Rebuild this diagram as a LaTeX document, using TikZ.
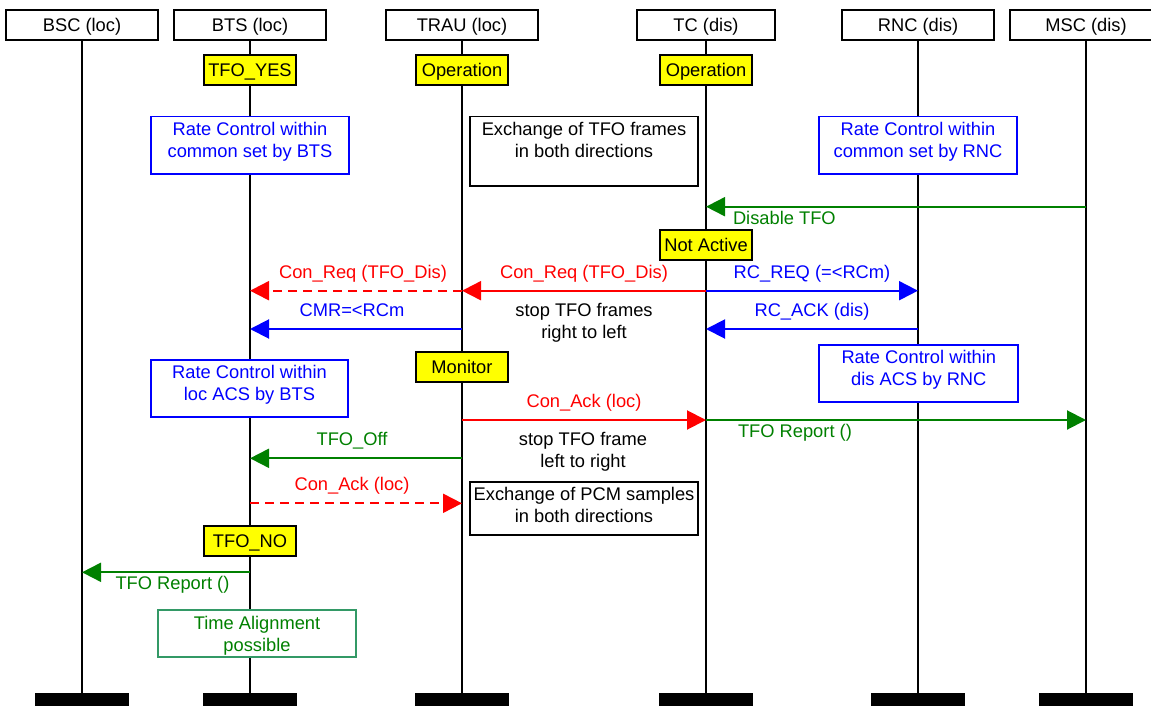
\documentclass[tikz,border=0pt]{standalone}
\usepackage{fontspec}
\setmainfont{Liberation Sans}
\usepackage{tikz}
\usetikzlibrary{arrows.meta}
\definecolor{tfored}{RGB}{255,0,0}
\definecolor{tfoblue}{RGB}{0,0,255}
\definecolor{tfogreen}{RGB}{0,128,0}
\definecolor{tfoteal}{RGB}{51,153,102}
\definecolor{tfoyellow}{RGB}{255,255,0}

\begin{document}
\begin{tikzpicture}[x=1pt, y=-1pt, font=\fontsize{18.3}{22}\selectfont,
    entity/.style={draw, line width=1.8pt, minimum width=152pt, minimum height=30pt, inner sep=0pt, text height=13pt, text depth=0pt},
    state/.style={draw, fill=tfoyellow, line width=1.8pt, minimum width=92pt, minimum height=30pt, inner sep=0pt, text height=13pt, text depth=0pt},
    stopbar/.style={fill=black, minimum width=94pt, minimum height=13.3pt, inner sep=0pt},
    note/.style={draw, fill=white, line width=1.8pt, anchor=north, align=center, inner xsep=0pt, inner ysep=4pt, text height=37pt},
    freetext/.style={align=center, inner sep=0pt},
    lifeline/.style={line width=2.2pt},
    msg/.style={line width=2pt, -{Triangle[length=19pt, width=19pt]}},
    dashmsg/.style={msg, dash pattern=on 9pt off 6pt},
    msglabel/.style={inner sep=0pt, text height=13pt, text depth=0pt},
    overlabel/.style={msglabel, midway, yshift=19pt}]
    \useasboundingbox (0,0) rectangle (1151,706);

    \node[entity] (bsc) at (82,25) {BSC (loc)};
    \node[entity] (bts) at (250,25) {BTS (loc)};
    \node[entity] (trau) at (462,25) {TRAU (loc)};
    \node[entity, minimum width=138pt] (tc) at (706,25) {TC (dis)};
    \node[entity] (rnc) at (918,25) {RNC (dis)};
    \node[entity] (msc) at (1086,25) {MSC (dis)};

    \node[stopbar] (bscend) at (82,699.35) {};
    \node[stopbar] (btsend) at (250,699.35) {};
    \node[stopbar] (trauend) at (462,699.35) {};
    \node[stopbar] (tcend) at (706,699.35) {};
    \node[stopbar] (rncend) at (918,699.35) {};
    \node[stopbar] (mscend) at (1086,699.35) {};

    \draw[lifeline] (bsc) -- (bscend);
    \draw[lifeline] (bts) -- (btsend);
    \draw[lifeline] (trau) -- (trauend);
    \draw[lifeline] (tc) -- (tcend);
    \draw[lifeline] (rnc) -- (rncend);
    \draw[lifeline] (msc) -- (mscend);

    \node[state] (btsyes) at (250,70) {TFO\_YES};
    \node[state] (trauop) at (462,70) {Operation};
    \node[state] (tcop) at (706,70) {Operation};
    \node[state] (tcidle) at (706,245) {Not Active};
    \node[state] (traumon) at (462,366.7) {Monitor};
    \node[state] (btsno) at (250,541) {TFO\_NO};

    \node[note, draw=tfoblue, text=tfoblue, minimum width=198pt, text depth=12.6pt] (btsrate) at (250,115.7) {Rate Control within\\common set by BTS};
    \node[note, minimum width=228.6pt, text depth=24.3pt] (tfoxchg) at (584,115.7) {Exchange of TFO frames\\in both directions};
    \node[note, draw=tfoblue, text=tfoblue, minimum width=198pt, text depth=12.6pt] (rncrate) at (918,115.7) {Rate Control within\\common set by RNC};
    \node[note, draw=tfoblue, text=tfoblue, minimum width=197pt, text depth=12pt] (btsacs) at (249.5,359) {Rate Control within\\loc ACS by BTS};
    \node[note, draw=tfoblue, text=tfoblue, minimum width=199pt, text depth=11.7pt] (rncacs) at (918.8,344) {Rate Control within\\dis ACS by RNC};
    \node[note, minimum width=228pt, text depth=8.3pt] (pcmxchg) at (584,480.7) {Exchange of PCM samples\\in both directions};
    \node[note, draw=tfoteal, text=tfogreen, minimum width=198pt, text depth=1.7pt] (talign) at (257,609.3) {Time Alignment\\possible};

    \node[freetext] (stoprl) at (584,322.8) {stop TFO frames\\right to left};
    \node[freetext] (stoplr) at (583,451.8) {stop TFO frame\\left to right};

    \draw[msg, tfogreen] (msc |- 0,206.7) -- (tc |- 0,206.7)
        node[msglabel, pos=1, anchor=west, xshift=26pt, yshift=-11.6pt] {Disable TFO};
    \draw[msg, tfored] (tc |- 0,290.7) -- (trau |- 0,290.7) node[overlabel] {Con\_Req (TFO\_Dis)};
    \draw[dashmsg, tfored] (trau |- 0,290.7) -- (bts |- 0,290.7) node[overlabel, xshift=7pt] {Con\_Req (TFO\_Dis)};
    \draw[msg, tfoblue] (tc |- 0,290.7) -- (rnc |- 0,290.7) node[overlabel] {RC\_REQ (=<RCm)};
    \draw[msg, tfoblue] (trau |- 0,329) -- (bts |- 0,329) node[overlabel, xshift=-4pt] {CMR=<RCm};
    \draw[msg, tfoblue] (rnc |- 0,329) -- (tc |- 0,329) node[overlabel] {RC\_ACK (dis)};
    \draw[msg, tfored] (trau |- 0,420) -- (tc |- 0,420) node[overlabel] {Con\_Ack (loc)};
    \draw[msg, tfogreen] (tc |- 0,420) -- (msc |- 0,420)
        node[msglabel, pos=0, anchor=west, xshift=31pt, yshift=-10.7pt] {TFO Report ()};
    \draw[msg, tfogreen] (trau |- 0,458.3) -- (bts |- 0,458.3) node[overlabel, xshift=-4pt] {TFO\_Off};
    \draw[dashmsg, tfored] (bts |- 0,503.3) -- (trau |- 0,503.3) node[overlabel, xshift=-4pt] {Con\_Ack (loc)};
    \draw[msg, tfogreen] (bts |- 0,572.3) -- (bsc |- 0,572.3)
        node[msglabel, pos=1, anchor=west, xshift=32.5pt, yshift=-11pt] {TFO Report ()};
\end{tikzpicture}
\end{document}
